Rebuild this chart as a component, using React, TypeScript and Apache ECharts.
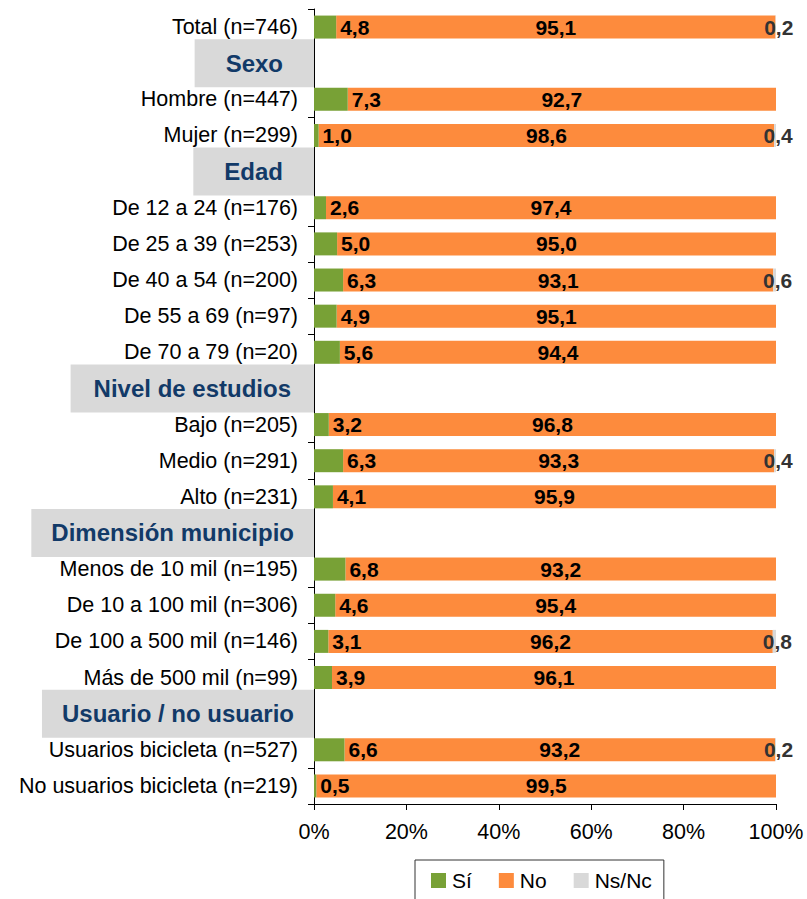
import React, { useEffect, useRef } from "react";
import * as echarts from "echarts";

const categories: string[] = [
  "Total (n=746)",
  "Sexo",
  "Hombre (n=447)",
  "Mujer (n=299)",
  "Edad",
  "De 12 a 24 (n=176)",
  "De 25 a 39 (n=253)",
  "De 40 a 54 (n=200)",
  "De 55 a 69 (n=97)",
  "De 70 a 79 (n=20)",
  "Nivel de estudios",
  "Bajo (n=205)",
  "Medio (n=291)",
  "Alto (n=231)",
  "Dimensión municipio",
  "Menos de 10 mil (n=195)",
  "De 10 a 100 mil (n=306)",
  "De 100 a 500 mil (n=146)",
  "Más de 500 mil (n=99)",
  "Usuario / no usuario",
  "Usuarios bicicleta (n=527)",
  "No usuarios bicicleta (n=219)",
];

const headers: string[] = ["Sexo", "Edad", "Nivel de estudios", "Dimensión municipio", "Usuario / no usuario"];

const siValues: (number | null)[] = [
  4.8, null, 7.3, 1.0, null, 2.6, 5.0, 6.3, 4.9, 5.6, null, 3.2, 6.3, 4.1, null, 6.8, 4.6, 3.1, 3.9, null, 6.6, 0.5,
];
const noValues: (number | null)[] = [
  95.1, null, 92.7, 98.6, null, 97.4, 95.0, 93.1, 95.1, 94.4, null, 96.8, 93.3, 95.9, null, 93.2, 95.4, 96.2, 96.1, null, 93.2, 99.5,
];
const nsncValues: (number | null)[] = [
  0.2, null, null, 0.4, null, null, null, 0.6, null, null, null, null, 0.4, null, null, null, null, 0.8, null, null, 0.2, null,
];

const xTicks = [0, 20, 40, 60, 80, 100];

const headerPad: Record<string, number> = {
  Sexo: 31,
  Edad: 31,
  "Nivel de estudios": 23,
  "Dimensión municipio": 20,
  "Usuario / no usuario": 20,
};

const GREEN = "#78A136";
const ORANGE = "#FD8B3D";
const GRAY = "#D9D9D9";
const NAVY = "#123A68";
const FONT = "Liberation Sans, Arial, sans-serif";

const fmt = (p: any) => {
  const v = p.value;
  if (v === null || v === undefined || v === "" || v === "-") return "";
  return Number(v).toFixed(1).replace(".", ",");
};

export default function App() {
  const ref = useRef<HTMLDivElement>(null);

  useEffect(() => {
    if (!ref.current) return;
    const chart = echarts.init(ref.current, undefined, { renderer: "svg" });

    const rich: Record<string, any> = {
      n: {
        fontSize: 21.5,
        color: "#000",
        fontFamily: FONT,
        padding: [0, 16, 0, 0],
      },
    };
    headers.forEach((h, i) => {
      const p = headerPad[h];
      rich["h" + i] = {
        fontSize: 24,
        fontWeight: "bold",
        color: NAVY,
        fontFamily: FONT,
        backgroundColor: GRAY,
        lineHeight: 25,
        padding: [12, p, 12, p],
      };
    });

    const labelBase = {
      fontSize: 21,
      fontWeight: "bold" as const,
      fontFamily: FONT,
      color: "#000",
      formatter: fmt,
    };

    chart.setOption({
      animation: false,
      textStyle: { fontFamily: FONT },
      grid: { left: 314, top: 9, width: 462, height: 795, containLabel: false },
      xAxis: {
        type: "value",
        min: xTicks[0],
        max: xTicks[xTicks.length - 1],
        interval: 20,
        splitLine: { show: false },
        axisLine: { show: true, lineStyle: { color: "#000", width: 1 } },
        axisTick: { show: true, length: 6, lineStyle: { color: "#000" } },
        axisLabel: {
          fontSize: 21.5,
          color: "#000",
          fontFamily: FONT,
          margin: 17,
          formatter: "{value}%",
        },
      },
      yAxis: {
        type: "category",
        inverse: true,
        data: categories,
        axisLine: { show: true, lineStyle: { color: "#000", width: 1 } },
        axisTick: { show: true, length: 6, alignWithLabel: false, lineStyle: { color: "#000" } },
        axisLabel: {
          margin: 0,
          interval: 0,
          formatter: (v: string) => {
            const hi = headers.indexOf(v);
            if (hi >= 0) return `{h${hi}|${v}}`;
            return `{n|${v}}`;
          },
          rich,
        },
      },
      legend: {
        left: 415,
        top: 860,
        borderColor: "#333",
        borderWidth: 1,
        padding: [10, 12, 12, 16],
        itemWidth: 15,
        itemHeight: 15,
        itemGap: 27,
        icon: "rect",
        textStyle: { fontSize: 21, color: "#000", fontFamily: FONT, padding: [0, 0, 0, 1] },
        data: ["Sí", "No", "Ns/Nc"],
      },
      series: [
        {
          name: "Sí",
          type: "bar",
          stack: "total",
          z: 3,
          barWidth: 23,
          data: siValues,
          itemStyle: { color: GREEN },
          label: { ...labelBase, show: true, position: "right", distance: 4 },
        },
        {
          name: "No",
          type: "bar",
          stack: "total",
          z: 2,
          barWidth: 23,
          data: noValues,
          itemStyle: { color: ORANGE },
          label: { ...labelBase, show: true, position: "inside" },
        },
        {
          name: "Ns/Nc",
          type: "bar",
          stack: "total",
          z: 4,
          barWidth: 23,
          data: nsncValues,
          itemStyle: { color: GRAY },
          label: { ...labelBase, show: true, position: "inside", offset: [3, 0], color: "#333" },
        },
      ],
    });

    return () => chart.dispose();
  }, []);

  return <div ref={ref} style={{ width: 807, height: 899, position: "absolute", left: 0, top: 0 }} />;
}
